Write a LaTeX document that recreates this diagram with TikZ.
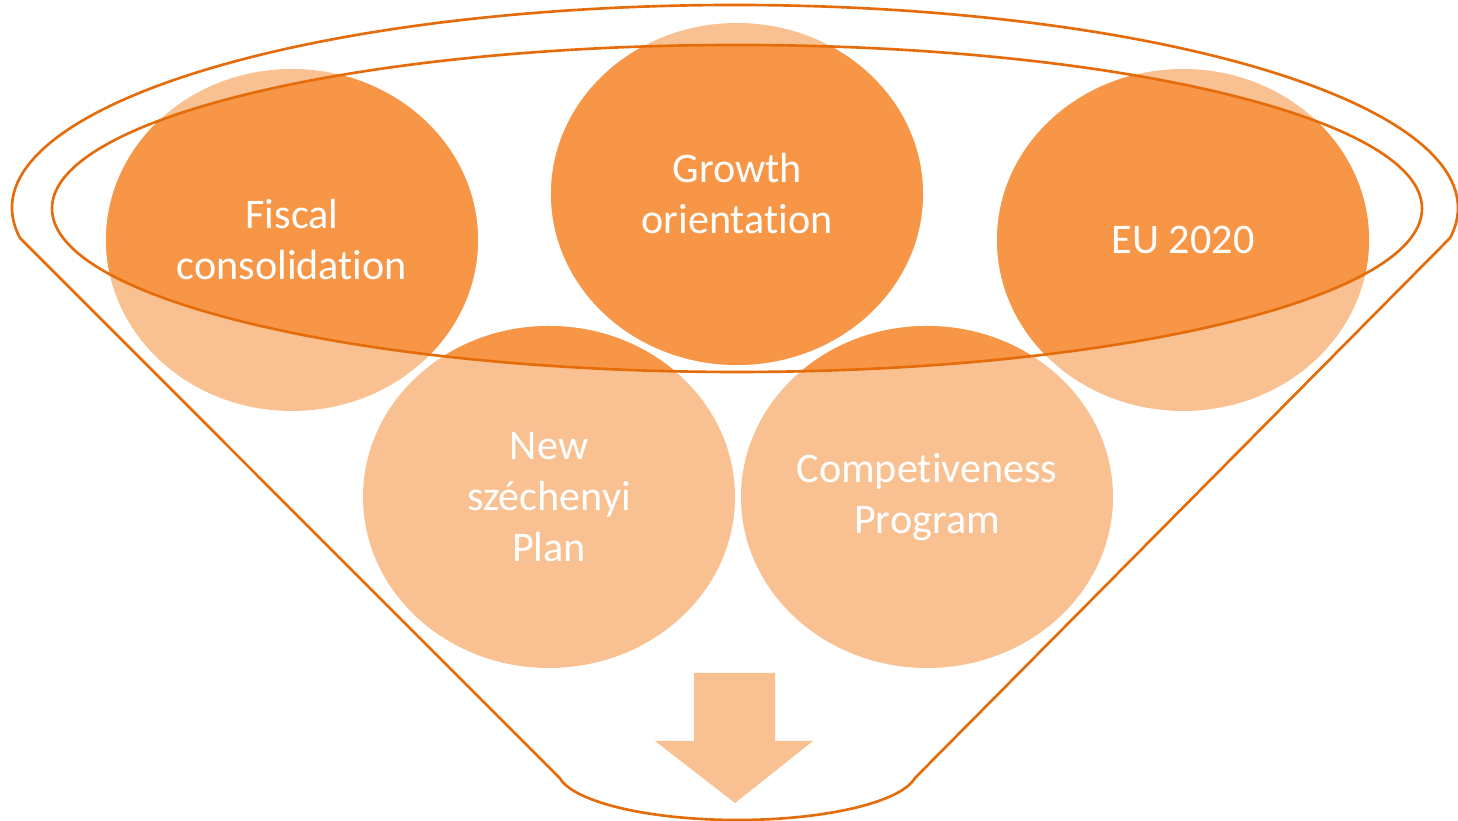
\documentclass[tikz,border=0pt]{standalone}
\usepackage{fontspec}
\setmainfont{Carlito}[Ligatures={NoCommon,NoContextual}]
\usetikzlibrary{shapes.geometric}
\definecolor{lightor}{HTML}{F9C191}
\definecolor{darkor}{HTML}{F79646}
\definecolor{lineor}{HTML}{E46C0A}

\begin{document}
\begin{tikzpicture}[line width=0.75pt, goal/.style = {ellipse, fill=lightor, minimum width=3.72cm, minimum height=3.42cm, inner sep=0pt, align=center, text=white, font=\fontsize{12}{14.5}\selectfont, path picture={\fill[darkor] (inner) ellipse[x radius=6.85cm, y radius=1.635cm];}}]
        \useasboundingbox (0,0) rectangle (14.58,8.21);
        \coordinate (inner) at (7.37,6.125);
        \coordinate (outer) at (7.35,6.13);
        \coordinate (lc) at (0.20,5.83);

        \node[goal] (fiscal) at (2.92,5.81) {Fiscal\\consolidation};
        \node[goal] (growth) at (7.37,6.27) {Growth\\orientation};
        \node[goal] (eu) at (11.83,5.81) {EU 2020};
        \node[goal] (szechenyi) at (5.49,3.24) {New\\széchenyi\\Plan};
        \node[goal] (compet) at (9.27,3.24) {Competiveness\\Program};

        \draw[lineor] (inner) ellipse[x radius=6.85, y radius=1.635];
        \draw[lineor] (lc) arc[start angle=188.5, end angle=-8.5, x radius=7.23, y radius=2.03]
            -- (9.15,0.43) arc[start angle=-9.2, end angle=-170.8, x radius=1.80, y radius=0.50] -- cycle;

        \fill[lightor] (6.94,1.48) -- (7.75,1.48) -- (7.75,0.80) -- (8.13,0.80) -- (7.35,0.18)
            -- (6.55,0.80) -- (6.94,0.80) -- cycle;
\end{tikzpicture}
\end{document}
